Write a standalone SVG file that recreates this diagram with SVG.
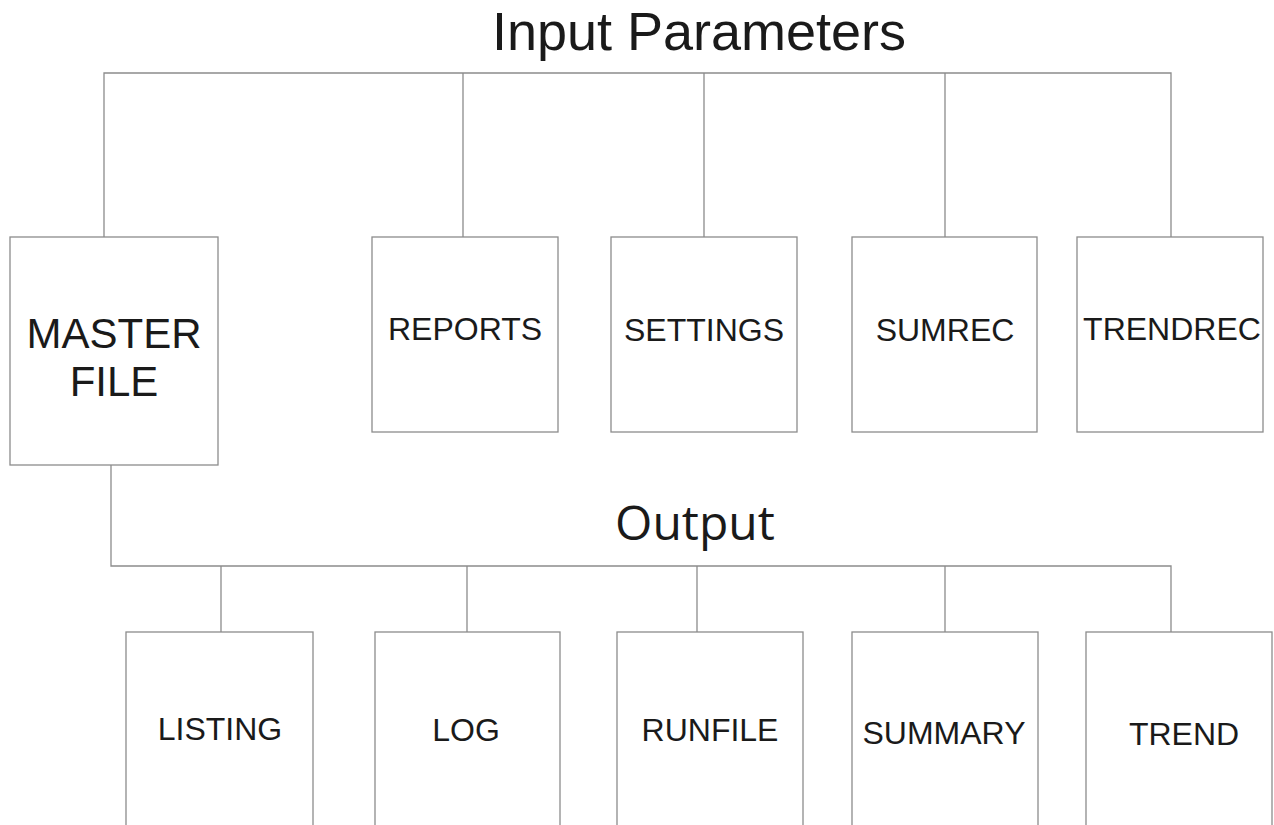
<svg xmlns="http://www.w3.org/2000/svg" width="1274" height="825" viewBox="0 0 1274 825">
<style>
.box{fill:#fff;stroke:#8c8c8c;stroke-width:1.3}
.ln{fill:none;stroke:#8c8c8c;stroke-width:1.3}
.t{font-family:"Liberation Sans",Arial,sans-serif;fill:#1a1a1a;text-anchor:middle}
.lbl{font-size:32px}
</style>
<rect width="1274" height="825" fill="#fff"/>
<text class="t" x="699" y="50" font-size="54">Input Parameters</text>
<text x="695" y="540" font-family="'Open Sans','Noto Sans',sans-serif" font-size="48" fill="#1a1a1a" text-anchor="middle">Output</text>
<g id="connectors">
<path class="ln" d="M104,237V73H1171V237M463,73V237M704,73V237M945,73V237"/>
<path class="ln" d="M111,465V566H1171V632M221,566V632M467,566V632M697,566V632M945,566V632"/>
</g>
<g id="master"><rect class="box" x="10" y="237" width="208" height="228"/><text class="t" x="114" y="348" font-size="42">MASTER</text><text class="t" x="114" y="396" font-size="42">FILE</text></g>
<g id="reports"><rect class="box" x="372" y="237" width="186" height="195"/><text class="t lbl" x="465" y="340">REPORTS</text></g>
<g id="settings"><rect class="box" x="611" y="237" width="186" height="195"/><text class="t lbl" x="704" y="341">SETTINGS</text></g>
<g id="sumrec"><rect class="box" x="852" y="237" width="185" height="195"/><text class="t lbl" x="945" y="341">SUMREC</text></g>
<g id="trendrec"><rect class="box" x="1077" y="237" width="186" height="195"/><text class="t lbl" x="1172" y="340">TRENDREC</text></g>
<g id="listing"><rect class="box" x="126" y="632" width="187" height="220"/><text class="t lbl" x="220" y="740">LISTING</text></g>
<g id="log"><rect class="box" x="375" y="632" width="185" height="220"/><text class="t lbl" x="466" y="741">LOG</text></g>
<g id="runfile"><rect class="box" x="617" y="632" width="186" height="220"/><text class="t lbl" x="710" y="741">RUNFILE</text></g>
<g id="summary"><rect class="box" x="852" y="632" width="186" height="220"/><text class="t lbl" x="944" y="744">SUMMARY</text></g>
<g id="trend"><rect class="box" x="1086" y="632" width="186" height="220"/><text class="t lbl" x="1184" y="745">TREND</text></g>
</svg>
